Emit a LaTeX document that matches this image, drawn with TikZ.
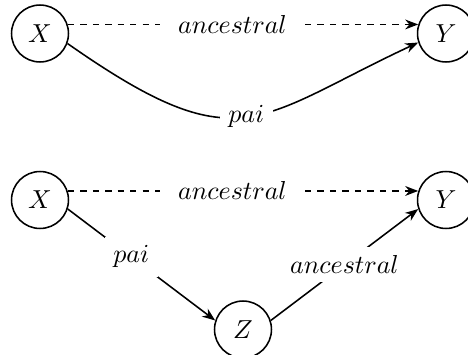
\documentclass[tikz,border=0pt]{standalone}
\usetikzlibrary{arrows.meta}
\begin{document}
\begin{tikzpicture}[x=0.3846pt,y=0.3846pt,
  var/.style={circle,draw,line width=0.6pt,minimum size=21.9pt,inner sep=0pt},
  conn/.style={line width=0.6pt,-{Stealth[length=5pt,width=3.8pt]}},
  dashy/.style={dash pattern=on 2.4pt off 2.4pt},
  lbl/.style={fill=white,inner sep=3.3pt},
  dlbl/.style={fill=white,inner xsep=7pt,inner ysep=3pt}]
\useasboundingbox (0,0) rectangle (468,354);
% top diagram
\node[var] (x1) at (40,320.5) {$X$};
\node[var] (y1) at (446,320.5) {$Y$};
\draw[conn,dashy] (x1.18) -- node[dlbl,pos=0.47]{$ancestral$} (y1.162);
\draw[conn] (x1.-20) .. controls +(-35:210) and +(-155:180) .. node[lbl]{$pai$} (y1.-162);
% bottom diagram
\node[var] (x2) at (40,154) {$X$};
\node[var] (y2) at (446,154) {$Y$};
\node[var] (z) at (243,24.5) {$Z$};
\draw[conn,dashy] (x2.18) -- node[dlbl,pos=0.47]{$ancestral$} (y2.162);
\draw[conn] (x2.-18) -- node[lbl,pos=0.43]{$pai$} (z.162);
\draw[conn] (z.18) -- node[lbl]{$ancestral$} (y2.-162);
\end{tikzpicture}
\end{document}
